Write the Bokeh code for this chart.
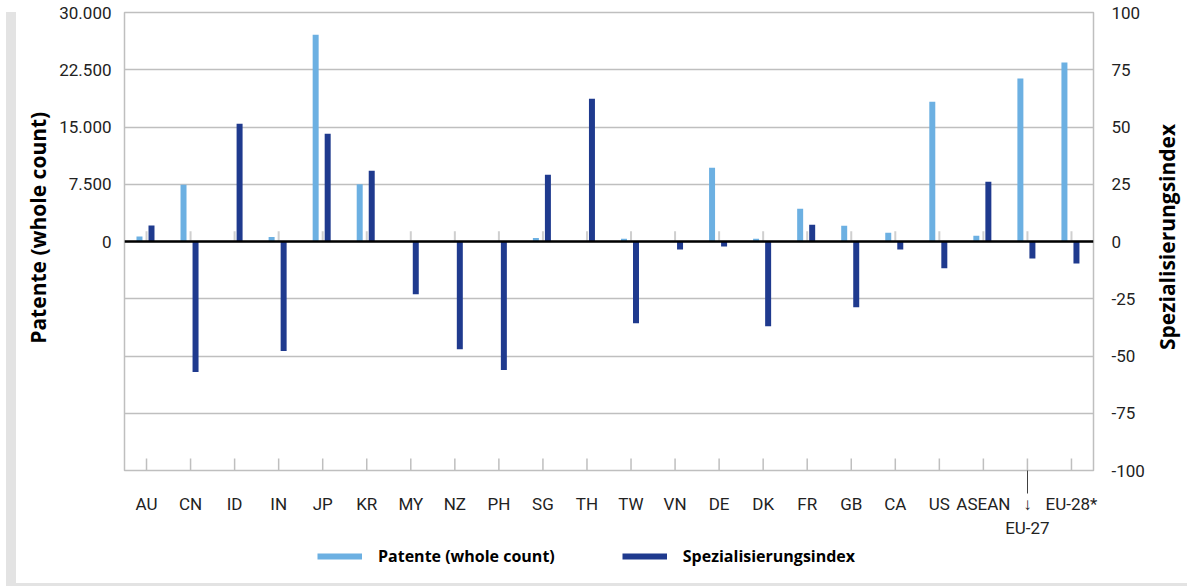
import math
from bokeh.plotting import figure
from bokeh.layouts import row, column
from bokeh.models import (Range1d, LinearAxis, FixedTicker, Span, Legend, Spacer,
                          LegendItem, ColumnDataSource)
from bokeh.core.properties import value
from bokeh.transform import dodge
from bokeh.embed import file_html
from bokeh.resources import INLINE

# ---------------- data ----------------
categories = ["AU", "CN", "ID", "IN", "JP", "KR", "MY", "NZ", "PH", "SG", "TH", "TW",
              "VN", "DE", "DK", "FR", "GB", "CA", "US", "ASEAN", "EU-27", "EU-28*"]
patents = [650, 7440, 40, 600, 27100, 7500, 60, 80, 20, 450, 50, 350,
           10, 9650, 350, 4300, 2050, 1150, 18300, 750, 21350, 23450]
spec_index = [7, -57, 51.4, -47.8, 47, 30.9, -23, -47, -56.1, 29.1, 62.3, -35.7,
              -3.5, -2.2, -37, 7.3, -28.7, -3.5, -11.7, 26.1, -7.4, -9.6]
left_ticks = [0, 7500, 15000, 22500, 30000]
right_ticks = [-100, -75, -50, -25, 0, 25, 50, 75, 100]
series_names = ["Patente (whole count)", "Spezialisierungsindex"]
arrow_label = "EU-27"

LIGHT = "#6CB0E2"
DARK = "#1F3A8E"
GRID = "#BFBFBF"
STRIP = "#E3E3E3"
TXT = "#222222"
TICK_FONT = "Roboto"
TITLE_FONT = "Open Sans"

FW, FH = 969, 458
TOP, BOTTOM = 12, 75
TW = 40            # width of each axis-title strip
n = len(categories)
xpos = [i + 0.5 for i in range(n)]
YMIN, YMAX = -30000, 30000

p = figure(x_range=Range1d(0, n), y_range=Range1d(YMIN, YMAX),
           frame_width=FW, frame_height=FH,
           min_border_left=67, min_border_right=55, min_border_top=TOP, min_border_bottom=BOTTOM,
           output_backend="svg", toolbar_location=None, tools="")
p.extra_y_ranges = {"idx": Range1d(-100, 100)}

p.background_fill_color = "white"
p.border_fill_color = "white"
p.outline_line_color = GRID
p.outline_line_width = 1.5

p.xgrid.visible = False
p.ygrid.ticker = FixedTicker(ticks=[t * 300 for t in right_ticks])
p.ygrid.grid_line_color = GRID
p.ygrid.grid_line_width = 1.5

src = ColumnDataSource(dict(x=xpos, cat=categories, patents=patents, idx=spec_index))

# small grey category ticks at the zero line and at the bottom edge
p.segment(x0="x", x1="x", y0=0, y1=1350, source=src, line_color="#CFCFCF", line_width=2)
p.segment(x0="x", x1="x", y0=YMIN, y1=YMIN + 12 * (YMAX - YMIN) / FH, source=src,
          line_color=GRID, line_width=1.5)

p.vbar(x=dodge("x", -0.16), top="patents", bottom=0, width=0.136,
       source=src, fill_color=LIGHT, line_color=None)
p.vbar(x=dodge("x", 0.113), top="idx", bottom=0, width=0.136,
       source=src, fill_color=DARK, line_color=None, y_range_name="idx")

p.add_layout(Span(location=0, dimension="width", line_color="black", line_width=2.5))

# x axis (labels only)
xa = p.xaxis[0]
xa.ticker = FixedTicker(ticks=xpos)
xa.major_label_overrides = {x: ("\u2193\n" + c if c == arrow_label else c)
                            for x, c in zip(xpos, categories)}
xa.minor_tick_in = 0
xa.minor_tick_out = 0
xa.major_tick_in = 0
xa.major_tick_out = 0
xa.axis_line_color = None
xa.major_label_standoff = 0
xa.major_label_text_font = TICK_FONT
xa.major_label_text_font_size = "17px"
xa.major_label_text_color = TXT

# arrow shaft for EU-27: a single outward tick of an axis next to the frame
x_eu = xpos[categories.index(arrow_label)]
shaft = LinearAxis(ticker=FixedTicker(ticks=[x_eu]))
shaft.major_label_overrides = {x_eu: ""}
shaft.major_label_text_font_size = "1px"
shaft.major_label_standoff = 0
shaft.axis_line_color = None
shaft.major_tick_in = 0
shaft.major_tick_out = 23
shaft.minor_tick_in = 0
shaft.minor_tick_out = 0
shaft.major_tick_line_color = "#404040"
shaft.major_tick_line_width = 1
p.below = [shaft, xa]

# left axis
ya = p.yaxis[0]
ya.ticker = FixedTicker(ticks=left_ticks)
ya.major_label_overrides = {t: f"{t:,}".replace(",", ".") for t in left_ticks}
ya.axis_line_color = None
ya.major_tick_in = 0
ya.major_tick_out = 0
ya.minor_tick_in = 0
ya.minor_tick_out = 0
ya.major_label_standoff = 13
ya.major_label_text_font = TICK_FONT
ya.major_label_text_font_size = "17px"
ya.major_label_text_color = TXT

# right axis
ra = LinearAxis(y_range_name="idx", ticker=FixedTicker(ticks=right_ticks))
ra.major_label_overrides = {t: str(t) for t in right_ticks}
ra.axis_line_color = None
ra.major_tick_in = 0
ra.major_tick_out = 0
ra.minor_tick_in = 0
ra.minor_tick_out = 0
ra.major_label_standoff = 18
ra.major_label_text_font = TICK_FONT
ra.major_label_text_font_size = "17px"
ra.major_label_text_color = TXT
p.add_layout(ra, "right")


# axis titles, each in a narrow strip beside the chart
def title_strip(text, x_center, y_value):
    f = figure(width=TW, height=TOP + FH + BOTTOM, x_range=Range1d(0, TW),
               y_range=Range1d(-100, 100), x_axis_type=None, y_axis_type=None,
               min_border_left=0, min_border_right=0, min_border_top=TOP,
               min_border_bottom=BOTTOM, output_backend="svg", toolbar_location=None, tools="")
    f.outline_line_color = None
    f.grid.visible = False
    f.text(x=[x_center], y=[y_value], text=[text], angle=math.pi / 2,
           text_align="center", text_baseline="middle", text_font=value(TITLE_FONT),
           text_font_style="bold", text_font_size="21px", text_color="black")
    return f


lt = title_strip(series_names[0], 21, 6)
rt = title_strip(series_names[1], 18, 2)

# legend in its own strip below the chart
lg = figure(width=TW + 67 + FW + 55 + TW, height=38, x_range=Range1d(0, 1), y_range=Range1d(0, 1),
            x_axis_type=None, y_axis_type=None, min_border_left=TW + 67, min_border_right=0,
            min_border_top=0, min_border_bottom=0,
            output_backend="svg", toolbar_location=None, tools="")
lg.outline_line_color = None
lg.grid.visible = False
r1 = lg.line(x=[float("nan")], y=[float("nan")], line_color=LIGHT, line_width=6)
r2 = lg.line(x=[float("nan")], y=[float("nan")], line_color=DARK, line_width=6)
legend = Legend(items=[LegendItem(label=series_names[0], renderers=[r1]),
                       LegendItem(label=series_names[1], renderers=[r2])],
                location=(194, 16), orientation="horizontal",
                glyph_width=45, glyph_height=20, label_height=20, label_standoff=16, spacing=67,
                padding=0, margin=0, border_line_color=None, background_fill_alpha=0,
                label_text_font=TITLE_FONT, label_text_font_style="bold",
                label_text_font_size="16px", label_text_color="black")
lg.add_layout(legend)

# light grey frame strips (left and bottom) around the chart
left_strip = column(Spacer(width=10, height=12),
                    Spacer(width=10, height=574, styles={"background-color": STRIP}))
main_col = column(row(lt, p, rt), lg,
                  Spacer(width=TW + 67 + FW + 55 + TW, height=3, styles={"background-color": STRIP}))
page = row(Spacer(width=6, height=586), left_strip, main_col)

open("out.html", "w").write(file_html(page, INLINE))
